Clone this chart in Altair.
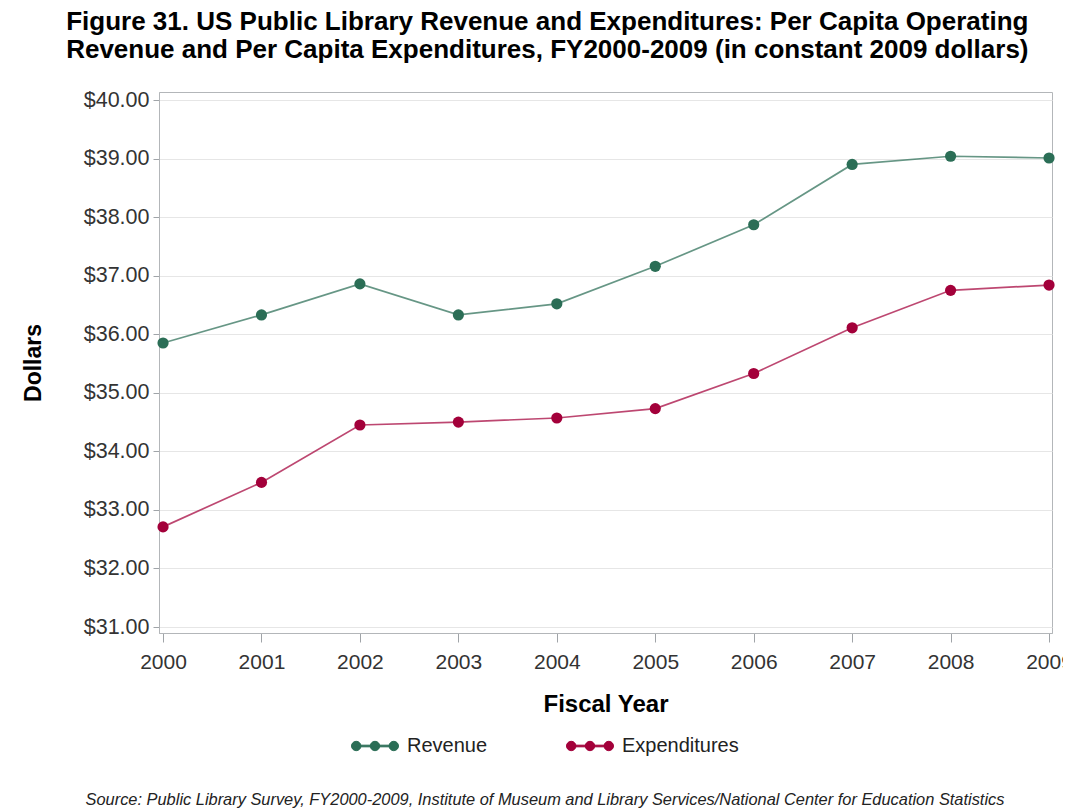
import altair as alt
import pandas as pd

years = [2000, 2001, 2002, 2003, 2004, 2005, 2006, 2007, 2008, 2009]
revenue = [35.85, 36.33, 36.86, 36.33, 36.52, 37.16, 37.87, 38.90, 39.04, 39.01]
expenditures = [32.71, 33.47, 34.45, 34.50, 34.57, 34.73, 35.33, 36.11, 36.75, 36.84]
series_names = ["Revenue", "Expenditures"]
marker_colors = ["#2b6e56", "#a3003a"]
y_ticks = [31, 32, 33, 34, 35, 36, 37, 38, 39, 40]

title_lines = [
    "Figure 31. US Public Library Revenue and Expenditures: Per Capita Operating",
    "Revenue and Per Capita Expenditures, FY2000-2009 (in constant 2009 dollars)",
]
source_note = ("Source: Public Library Survey, FY2000-2009, Institute of Museum and "
               "Library Services/National Center for Education Statistics")

rows = []
for y, r, e in zip(years, revenue, expenditures):
    rows.append({"year": y, "series": "Revenue", "value": r})
    rows.append({"year": y, "series": "Expenditures", "value": e})
df = pd.DataFrame(rows)

W, H = 893, 541
FONT = "Liberation Sans"

x_enc = alt.X("year:Q",
              scale=alt.Scale(domain=[1999.959, 2009.03], nice=False, zero=False),
              axis=alt.Axis(values=years, format="d", title="Fiscal Year",
                            grid=False, tickSize=9, labelPadding=9,
                            labelFontSize=21, titleFontSize=24, titleFontWeight="bold",
                            titlePadding=20, labelFlush=False))
y_enc = alt.Y("value:Q",
              scale=alt.Scale(domain=[30.898, 40.137], nice=False, zero=False),
              axis=alt.Axis(values=y_ticks, format="$.2f", title="Dollars",
                            tickSize=6, labelPadding=4, labelFontSize=21.5,
                            titleFontSize=23, titleFontWeight="bold", titlePadding=38,
                            gridColor="#e6e6e6"))

legend_path = ("M-0.8,-0.035H0.8V0.035H-0.8Z "
               "M-1,0A0.2,0.2,0,1,1,-0.6,0A0.2,0.2,0,1,1,-1,0Z "
               "M-0.2,0A0.2,0.2,0,1,1,0.2,0A0.2,0.2,0,1,1,-0.2,0Z "
               "M0.6,0A0.2,0.2,0,1,1,1,0A0.2,0.2,0,1,1,0.6,0Z")

color_enc = alt.Color(
    "series:N",
    scale=alt.Scale(domain=series_names, range=marker_colors),
    sort=series_names,
    legend=alt.Legend(title=None, orient="none", legendX=192, legendY=630,
                      direction="horizontal",
                      symbolType=legend_path, symbolSize=2209,
                      symbolStrokeWidth=1, labelFontSize=20,
                      labelColor="#222", columnPadding=76, labelOffset=8),
)

lines = alt.Chart(df).mark_line(strokeWidth=1.7, opacity=0.72).encode(
    x=x_enc, y=y_enc, color=color_enc,
)

points = alt.Chart(df).mark_point(filled=True, size=125, opacity=1, strokeWidth=0).encode(
    x=x_enc, y=y_enc, color=color_enc,
)

note = alt.Chart(pd.DataFrame({"t": [source_note]})).mark_text(
    font=FONT, fontSize=16.4, fontStyle="italic", color="#222", align="center",
    baseline="middle"
).encode(x=alt.value(386), y=alt.value(708), text="t:N")

chart = alt.layer(points, lines, note).properties(
    width=W, height=H,
    title=alt.TitleParams(text=title_lines, anchor="middle", frame="bounds",
                          fontSize=26, fontWeight="bold", font=FONT, color="#000",
                          lineHeight=28, offset=26),
    autosize=alt.AutoSizeParams(type="none"),
    padding={"left": 151, "top": 84, "right": 11, "bottom": 176},
).configure(font=FONT).configure_view(
    stroke="#b3b6b9", strokeWidth=1
).configure_axis(
    domainColor="#b3b6b9", tickColor="#a0a4a8", labelColor="#333",
    titleColor="#000", labelFont=FONT, titleFont=FONT,
).configure_legend(labelFont=FONT)

chart.save("out.html", embed_options={"renderer": "svg", "actions": False})
